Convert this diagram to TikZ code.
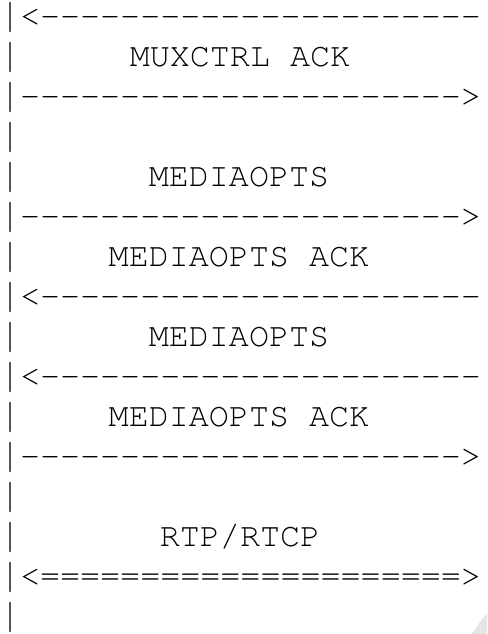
\documentclass[tikz,border=0pt]{standalone}
\usepackage[T1]{fontenc}
\usepackage{graphicx}
\newcommand\dashrun[1]{\foreach \k in {1,...,#1}{-\kern0pt}}
\newcommand\eqrun[1]{\foreach \k in {1,...,#1}{=\kern0pt}}
\newcommand\vbar{\raisebox{-1.1pt}{\scalebox{1}[1.25]{|}}}
\begin{document}
\begin{tikzpicture}[x=1pt,y=-1pt,
  ascii/.style={anchor=base west,inner sep=0pt,outer sep=0pt,font=\fontencoding{T1}\fontfamily{pcr}\fontseries{m}\fontshape{n}\fontsize{33.4pt}{40pt}\selectfont},
  label/.style={anchor=base,inner sep=0pt,outer sep=0pt,font=\fontencoding{T1}\fontfamily{pcr}\fontseries{m}\fontshape{n}\fontsize{33.4pt}{40pt}\selectfont}]
\useasboundingbox (0,0) rectangle (487,634);
\fill[white] (0,0) rectangle (487,634);
\fill[black!10] (472,634) .. controls (477,626) and (482,619) .. (487,613) -- (487,634) -- cycle;
\node[ascii] (l0)  at (0,26.7)  {\vbar<\dashrun{22}};
\node[ascii] (b1)  at (0,66.7)  {\vbar};
\node[label] (t1)  at (240,66.7) {MUXCTRL ACK};
\node[ascii] (l2)  at (0,106.7) {\vbar\dashrun{22}>};
\node[ascii] (b3)  at (0,146.7) {\vbar};
\node[ascii] (b4)  at (0,186.7) {\vbar};
\node[label] (t4)  at (239,186.7) {MEDIAOPTS};
\node[ascii] (l5)  at (0,226.7) {\vbar\dashrun{22}>};
\node[ascii] (b6)  at (0,266.7) {\vbar};
\node[label] (t6)  at (239,266.7) {MEDIAOPTS ACK};
\node[ascii] (l7)  at (0,306.7) {\vbar<\dashrun{22}};
\node[ascii] (b8)  at (0,346.7) {\vbar};
\node[label] (t8)  at (239,346.7) {MEDIAOPTS};
\node[ascii] (l9)  at (0,386.7) {\vbar<\dashrun{22}};
\node[ascii] (b10) at (0,426.7) {\vbar};
\node[label] (t10) at (239,426.7) {MEDIAOPTS ACK};
\node[ascii] (l11) at (0,466.7) {\vbar\dashrun{22}>};
\node[ascii] (b12) at (0,506.7) {\vbar};
\node[ascii] (b13) at (0,546.7) {\vbar};
\node[label] (t13) at (240,546.7) {RTP/RTCP};
\node[ascii] (l14) at (0,586.7) {\vbar<\eqrun{21}>};
\node[ascii] (b15) at (0,626.7) {\vbar};
\end{tikzpicture}
\end{document}
